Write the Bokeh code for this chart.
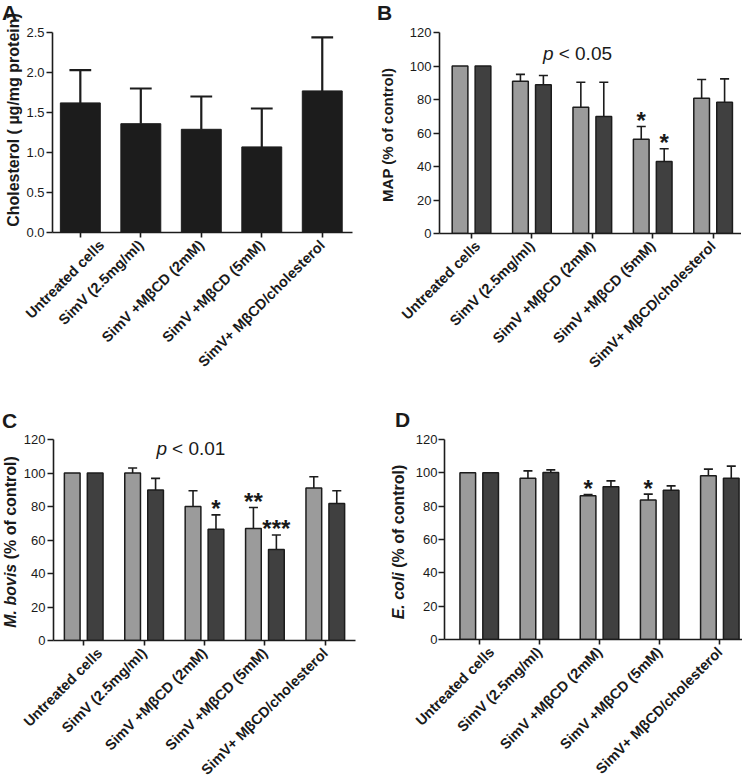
import math
from bokeh.plotting import figure
from bokeh.layouts import column, row
from bokeh.models import (ColumnDataSource, Range1d, FixedTicker, PrintfTickFormatter, Div)
from bokeh.core.properties import value
from bokeh.embed import file_html
from bokeh.resources import INLINE

# ---------------- data ----------------
categories = ["Untreated cells", "SimV (2.5mg/ml)", "SimV +MβCD (2mM)",
              "SimV +MβCD (5mM)", "SimV+ MβCD/cholesterol"]

A_mean = [1.62, 1.36, 1.29, 1.07, 1.77]
A_err = [0.41, 0.44, 0.41, 0.48, 0.67]

B_light = [100, 90.9, 75.4, 56.3, 80.8]
B_light_err = [0, 4.1, 14.9, 7.6, 11.1]
B_dark = [100, 88.8, 69.9, 43.0, 78.4]
B_dark_err = [0, 5.5, 20.4, 7.6, 13.9]
B_light_sig = ["", "", "", "*", ""]
B_dark_sig = ["", "", "", "*", ""]

C_light = [100, 100.0, 80.0, 66.8, 91.0]
C_light_err = [0, 3.0, 9.4, 12.6, 6.8]
C_dark = [100, 89.8, 66.4, 54.4, 81.8]
C_dark_err = [0, 7.0, 8.6, 8.6, 7.6]
C_light_sig = ["", "", "", "**", ""]
C_dark_sig = ["", "", "*", "***", ""]

D_light = [100, 96.8, 86.2, 83.7, 98.2]
D_light_err = [0, 4.4, 0.8, 3.5, 4.0]
D_dark = [100, 100.2, 91.6, 89.6, 96.8]
D_dark_err = [0, 1.6, 3.6, 2.6, 7.2]
D_light_sig = ["", "", "*", "*", ""]
D_dark_sig = ["", "", "", "", ""]

pct_ticks = [0, 20, 40, 60, 80, 100, 120]
chol_ticks = [0, 0.5, 1.0, 1.5, 2.0, 2.5]

FONT = "Liberation Sans"
TXT = "#1a1a1a"
LIGHT = "#9b9b9b"
DARK = "#404040"
BLACK = "#1c1c1c"


def base_fig(geo, yticks):
    p = figure(output_backend="svg", toolbar_location=None,
               frame_width=geo["fw"], frame_height=geo["fh"],
               min_border_left=geo["bl"], min_border_right=geo["br"],
               min_border_top=geo["bt"], min_border_bottom=geo["bb"],
               x_range=Range1d(*geo["xr"]), y_range=Range1d(*geo["yr"]))
    p.outline_line_color = None
    p.xgrid.visible = False
    p.ygrid.visible = False
    p.background_fill_color = "white"
    p.border_fill_color = "white"
    for ax in (p.xaxis[0], p.yaxis[0]):
        ax.axis_line_width = 1.6
        ax.axis_line_color = BLACK
        ax.major_tick_line_color = BLACK
        ax.major_tick_line_width = 1.6
        ax.minor_tick_line_color = None
        ax.major_tick_in = 0
        ax.major_tick_out = 6
        ax.major_label_text_font = FONT
        ax.major_label_text_color = TXT
        ax.axis_label = None
    p.yaxis.ticker = FixedTicker(ticks=yticks)
    p.yaxis.major_label_text_font_size = "13px"
    p.yaxis.major_label_standoff = geo["ys"]
    p.xaxis.ticker = FixedTicker(ticks=list(range(len(categories))))
    p.xaxis.major_label_overrides = {i: c for i, c in enumerate(categories)}
    p.xaxis.major_label_orientation = math.pi / 4
    p.xaxis.major_label_text_font_size = "14.5px"
    p.xaxis.major_label_text_font_style = "bold"
    p.xaxis.major_tick_out = 5
    p.xaxis.major_label_standoff = 5
    return p


def add_errors(p, xs, means, errs, cap, color, lw):
    xe = [x for x, e in zip(xs, errs) if e > 0]
    y0 = [m for m, e in zip(means, errs) if e > 0]
    y1 = [m + e for m, e in zip(means, errs) if e > 0]
    src = ColumnDataSource(dict(x=xe, y0=y0, y1=y1,
                                xl=[x - cap / 2 for x in xe],
                                xr=[x + cap / 2 for x in xe]))
    p.segment(x0="x", y0="y0", x1="x", y1="y1", source=src,
              line_color=color, line_width=lw)
    p.segment(x0="xl", y0="y1", x1="xr", y1="y1", source=src,
              line_color=color, line_width=lw)


def add_stars(p, xs, means, errs, sig):
    keep = [i for i, s in enumerate(sig) if s]
    src = ColumnDataSource(dict(x=[xs[i] for i in keep],
                                y=[means[i] + errs[i] for i in keep],
                                t=[sig[i] for i in keep]))
    p.text(x="x", y="y", text="t", source=src, text_font=value(FONT),
           text_font_style="bold", text_font_size="24px", text_color=TXT,
           text_align="center", text_baseline="alphabetic", y_offset=-6)


def add_p(p, xp, yp, rest):
    p.text(x=[xp], y=[yp], text=["p"], text_font=value(FONT), text_font_style="italic",
           text_font_size="19px", text_color=TXT, text_align="right",
           text_baseline="alphabetic")
    p.text(x=[xp], y=[yp], text=[rest], text_font=value(FONT),
           text_font_size="19px", text_color=TXT, text_align="left",
           text_baseline="alphabetic", x_offset=5)


def side_div(width, height, letter, lx, ly, title_html, tx, ty, tsize):
    html = (
        f'<div style="position:relative;width:{width}px;height:{height}px;'
        f"font-family:'{FONT}';color:{TXT};\">"
        f'<span style="position:absolute;left:{lx}px;top:{ly}px;font-size:21px;'
        f'font-weight:bold;line-height:24px;white-space:nowrap;">{letter}</span>'
        f'<span style="position:absolute;left:{tx}px;top:{ty}px;font-size:{tsize}px;'
        f'font-weight:bold;line-height:{tsize + 2}px;white-space:nowrap;'
        f'transform:translate(-50%,-50%) rotate(-90deg);">{title_html}</span>'
        '</div>'
    )
    return Div(text=html, width=width, height=height, margin=0)


idx = list(range(len(categories)))
OFF = 0.19
BW = 0.26


def grouped(p, light, light_err, dark, dark_err, lsig, dsig):
    xl = [i - OFF for i in idx]
    xd = [i + OFF for i in idx]
    p.vbar(x=xl, top=light, width=BW, fill_color=LIGHT, line_color=BLACK, line_width=1.5)
    p.vbar(x=xd, top=dark, width=BW, fill_color=DARK, line_color=BLACK, line_width=1.5)
    add_errors(p, xl, light, light_err, 0.15, BLACK, 1.6)
    add_errors(p, xd, dark, dark_err, 0.15, BLACK, 1.6)
    add_stars(p, xl, light, light_err, lsig)
    add_stars(p, xd, dark, dark_err, dsig)


# panel geometry: frame size, borders, ranges, y-label standoff
GA = dict(fw=300, fh=200, bl=30, br=19, bt=32, bb=158, xr=(-0.46, 4.5), yr=(0, 2.5), ys=2)
GB = dict(fw=302, fh=201, bl=41, br=0, bt=32, bb=157, xr=(-0.53, 4.47), yr=(0, 120), ys=2)
GC = dict(fw=302, fh=201, bl=30, br=19, bt=48, bb=143, xr=(-0.5, 4.5), yr=(0, 120), ys=2)
GD = dict(fw=303, fh=200, bl=29, br=0, bt=49, bb=143, xr=(-0.577, 4.46), yr=(0, 120), ys=1)

# ---------------- panel A ----------------
pa = base_fig(GA, chol_ticks)
pa.yaxis.formatter = PrintfTickFormatter(format="%.1f")
pa.vbar(x=idx, top=A_mean, width=0.66, fill_color=BLACK, line_color=BLACK)
add_errors(pa, idx, A_mean, A_err, 0.36, BLACK, 2.2)
da = side_div(22, 390, "A", 2, 1, "Cholesterol ( µg/mg protein)", 13.5, 120, 16)

# ---------------- panel B ----------------
pb = base_fig(GB, pct_ticks)
grouped(pb, B_light, B_light_err, B_dark, B_dark_err, B_light_sig, B_dark_sig)
add_p(pb, 1.36, 107.5, "< 0.05")
db = side_div(27, 390, "B", 6, 1, "MAP (% of control)", 16, 135, 15)

# ---------------- panel C ----------------
pc = base_fig(GC, pct_ticks)
grouped(pc, C_light, C_light_err, C_dark, C_dark_err, C_light_sig, C_dark_sig)
add_p(pc, 1.38, 114.6, "< 0.01")
dc = side_div(20, 392, "C", 2, 19, "<i>M. bovis</i> (% of control)", 11, 152, 16)

# ---------------- panel D ----------------
pd_ = base_fig(GD, pct_ticks)
grouped(pd_, D_light, D_light_err, D_dark, D_dark_err, D_light_sig, D_dark_sig)
dd = side_div(38, 392, "D", 21, 18, "<i>E. coli</i> (% of control)", 25, 152, 16)

layout = column(row(da, pa, db, pb), row(dc, pc, dd, pd_))
open("out.html", "w").write(file_html(layout, INLINE))
